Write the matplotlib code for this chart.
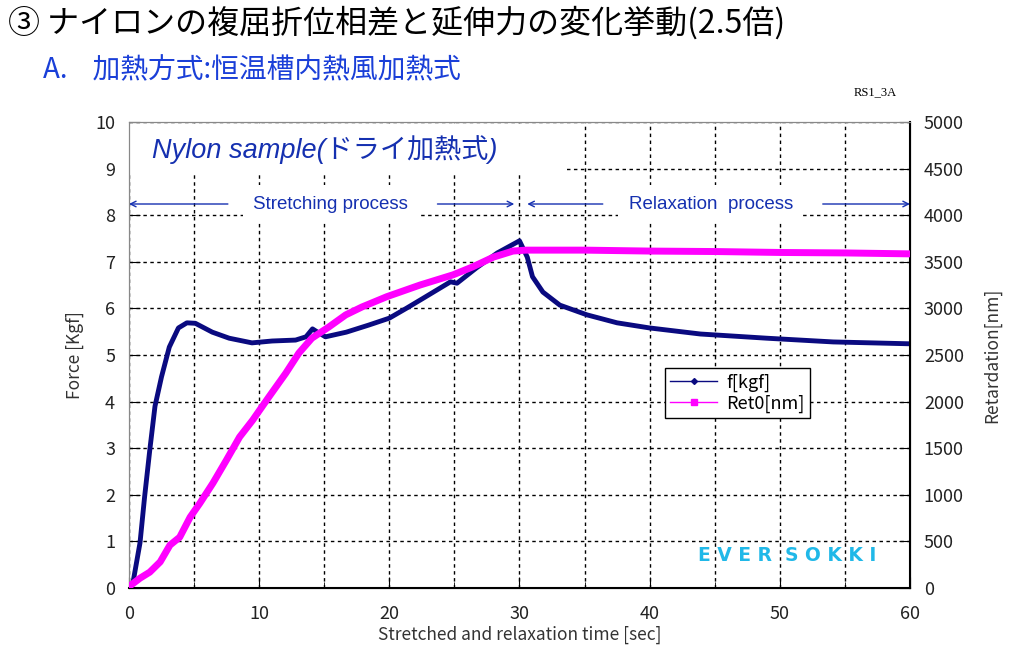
import matplotlib
matplotlib.use("Agg")
import matplotlib.pyplot as plt
from matplotlib.lines import Line2D
from matplotlib.patches import Rectangle

plt.rcParams["font.family"] = ["Noto Sans CJK JP", "DejaVu Sans"]

# force [kgf] over time
force_t = [0, 0.3, 0.85, 1.2, 1.6, 2.0, 2.5, 3.1, 3.8, 4.45, 5.1, 6.4, 7.7,
           9.45, 11.0, 12.8, 13.6, 14.1, 14.6, 15.1, 16.7, 18.4, 20.0, 21.3,
           22.5, 24.7, 25.2, 26.7, 28.3, 30.0, 30.6, 31.0, 31.8, 33.1, 35.2,
           37.5, 40.0, 43.9, 49.0, 54.1, 60.0]
force_kgf = [0.05, 0.1, 0.97, 1.95, 2.96, 3.9, 4.53, 5.17, 5.58, 5.69, 5.68,
             5.49, 5.36, 5.26, 5.30, 5.32, 5.39, 5.56, 5.47, 5.39, 5.49, 5.64,
             5.79, 6.0, 6.2, 6.57, 6.54, 6.87, 7.19, 7.45, 7.1, 6.68, 6.35,
             6.07, 5.86, 5.69, 5.58, 5.45, 5.36, 5.28, 5.24]

# retardation [nm] over time
ret_t = [0, 0.85, 1.6, 2.4, 3.15, 3.9, 4.7, 5.45, 6.45, 7.5, 8.5, 9.5, 10.75,
         12.05, 13.05, 14.05, 15.35, 16.65, 17.9, 19.8, 22.35, 24.9, 26.4,
         28.0, 29.5, 30.5, 35.0, 40.0, 45.0, 50.0, 55.0, 60.0]
ret_nm = [15, 105, 170, 280, 460, 545, 760, 910, 1125, 1375, 1620, 1800, 2050,
          2305, 2520, 2680, 2800, 2930, 3015, 3125, 3250, 3360, 3445, 3550,
          3615, 3625, 3625, 3615, 3610, 3600, 3595, 3585]

navy = "#0a0a80"
magenta = "#ff00ff"
label_blue = "#1530b0"

fig = plt.figure(figsize=(10.13, 6.52), dpi=100)
ax = fig.add_axes([0.1273, 0.0982, 0.7710, 0.7147])
ax2 = ax.twinx()

ax.plot(force_t, force_kgf, color=navy, lw=3.5, zorder=3)
ax2.plot(ret_t, ret_nm, color=magenta, lw=5, zorder=3)

ax.set_xlim(0, 60)
ax.set_ylim(0, 10)
ax2.set_ylim(0, 5000)
ax.set_xticks(range(0, 61, 10))
ax.set_xticks(range(5, 60, 10), minor=True)
ax.set_yticks(range(0, 11))
ax2.set_yticks(range(0, 5001, 500))

ax.grid(True, which="both", axis="x", color="black", ls=(0, (2.5, 2.5)), lw=1)
ax.grid(True, axis="y", color="black", ls=(0, (2.5, 2.5)), lw=1)

ax.tick_params(direction="in", labelsize=13, labelcolor="#222222", length=8)
ax.tick_params(which="minor", direction="in", length=4)
ax2.tick_params(direction="in", labelsize=13, labelcolor="#222222", length=8)
ax.tick_params(axis="x", pad=12)
ax.tick_params(axis="y", pad=10)
ax2.tick_params(axis="y", pad=10)

for sp in ["left", "top"]:
    ax.spines[sp].set_color("#888888")
    ax2.spines[sp].set_color("#888888")
ax2.spines["right"].set_linewidth(1.5)
ax.spines["bottom"].set_linewidth(1.5)

ax.set_ylabel("Force [Kgf]", fontsize=12.5, color="#333333", labelpad=8)
ax2.set_ylabel("Retardation[nm]", fontsize=12.5, color="#333333", labelpad=14)
ax.set_xlabel("Stretched and relaxation time [sec]", fontsize=12.5,
              color="#333333", labelpad=2)

# white block behind the sample label (hides the grid there)
ax.add_patch(Rectangle((0, 0.89), 0.558, 0.103, transform=ax.transAxes,
                       facecolor="white", edgecolor="none", zorder=1.8))
ax.text(0.03, 0.94, "Nylon sample(ドライ加熱式)", transform=ax.transAxes,
        fontsize=19.5, style="italic", color=label_blue, va="center",
        family=["Liberation Sans", "Noto Sans CJK JP"], zorder=4)

# process arrows
arrow_y = 8.24
arrow_kw = dict(arrowstyle="->", color=label_blue, lw=1, shrinkA=0, shrinkB=0)
ax.annotate("", xy=(0, arrow_y), xytext=(7.6, arrow_y), arrowprops=arrow_kw)
ax.annotate("", xy=(29.6, arrow_y), xytext=(23.7, arrow_y), arrowprops=arrow_kw)
ax.annotate("", xy=(30.6, arrow_y), xytext=(36.4, arrow_y), arrowprops=arrow_kw)
ax.annotate("", xy=(60, arrow_y), xytext=(53.3, arrow_y), arrowprops=arrow_kw)
box = dict(boxstyle="square,pad=0.55", facecolor="white", edgecolor="none")
ax.text(15.5, arrow_y, "Stretching process", fontsize=13.5, color=label_blue,
        ha="center", va="center", family="Liberation Sans", bbox=box, zorder=4)
ax.text(44.7, arrow_y, "Relaxation  process", fontsize=13.5, color=label_blue,
        ha="center", va="center", family="Liberation Sans", bbox=box, zorder=4)

ax.text(50.6, 0.69, "E V E R  S O K K I", fontsize=13.5, fontweight="bold",
        color="#20b8e8", ha="center", va="center", family="DejaVu Sans",
        zorder=4)

handles = [Line2D([], [], color=navy, lw=1, marker="D", markersize=3),
           Line2D([], [], color=magenta, lw=1, marker="s", markersize=4)]
leg = ax2.legend(handles, ["f[kgf]", "Ret0[nm]"], loc="upper left",
                 bbox_to_anchor=(0.686, 0.472), fontsize=13, fancybox=False,
                 framealpha=1, edgecolor="black", handlelength=2.6,
                 borderpad=0.3, labelspacing=0.15, borderaxespad=0,
                 handletextpad=0.5)
leg.get_frame().set_linewidth(1)

fig.text(0.008, 0.965, "③ ナイロンの複屈折位相差と延伸力の変化挙動(2.5倍)",
         fontsize=23, va="center", ha="left")
fig.text(0.042, 0.892, "A.    加熱方式:恒温槽内熱風加熱式", fontsize=20,
         color="#1a3fd8", va="center", ha="left", style="italic")
fig.text(0.843, 0.858, "RS1_3A", fontsize=9, family="Liberation Serif",
         va="center", ha="left")

fig.savefig("out.png", dpi=100)
